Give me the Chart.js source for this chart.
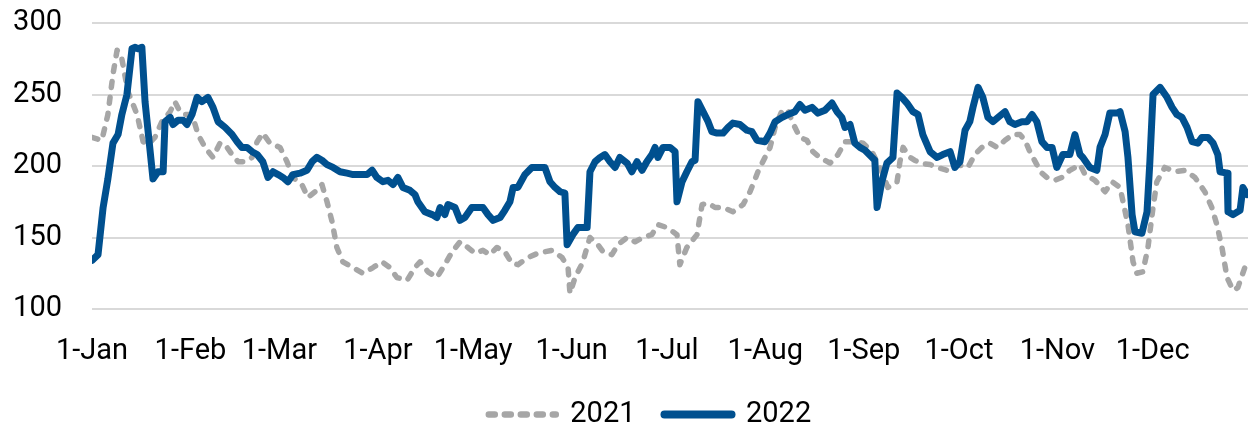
<!DOCTYPE html>
<html>
<head>
<meta charset="utf-8">
<script src="https://cdn.jsdelivr.net/npm/chart.js@4"></script>
<style>
  html, body { margin: 0; padding: 0; background: #ffffff; }
  #wrap { width: 1253px; height: 429px; }
</style>
</head>
<body>
<div id="wrap"><canvas id="c" width="1253" height="429"></canvas></div>
<script>
// Day-of-year positions (0 = 1-Jan) and values
const monthStartDays = [0, 31, 59, 90, 120, 151, 181, 212, 243, 273, 304, 334];
const monthLabels = ['1-Jan','1-Feb','1-Mar','1-Apr','1-May','1-Jun','1-Jul','1-Aug','1-Sep','1-Oct','1-Nov','1-Dec'];
const yTickValues = [100, 150, 200, 250, 300];

const days2021 = [0,3.1,5,6.6,7.9,9.4,11.3,14.2,16.1,17.6,19.8,22,24.6,26.1,27.7,29.3,31.5,33.4,35.6,38.1,40.3,41.9,44.1,46,48.2,50.4,52,53.8,56,59.2,61.4,63.3,66.1,68,70.2,72.4,74,75.6,77.1,79,82.2,85.3,88.5,91.3,93.8,96,99.2,101.7,103.3,105.8,108.6,111.1,113.4,115.9,118.4,120.6,123.1,125.3,127.5,130,132.2,134.1,137.3,140.4,144.8,148,149.9,150.5,152.1,154.6,155.2,156.8,159.3,160.9,163.7,165.6,168.5,171,173.5,176.3,178.2,181,184.2,185.1,187.3,190.5,192.1,194,196.2,198.7,201.8,205,207.2,209.7,211.9,213.5,215.1,217.3,219.1,220.7,222.9,225.1,227,229.2,232.4,234.9,237.1,240.2,242.8,245.6,248.7,250.6,253.5,254.4,255.4,257.6,259.1,260.7,263.9,266.1,269.2,272.4,275.8,278,280.2,282.7,285,287.5,290,292.2,293.8,295.3,297.5,299.1,300.7,303.2,305.4,307.9,311.1,312.7,315.8,319,321.2,323.7,326.2,327.8,329,330.9,332.5,334.1,335.3,337.8,341,344.1,347.3,350.4,352.6,354.2,355.8,357.4,359.3,360.8,363];
const values2021 = [220,218,236,264,281,275,252,236,217,215,220,231,238,245,238,236,236,222,213,206,216,215,208,203,203,206,217,223,216,213,203,192,187,178,182,187,175,161,143,133,129,125,129,133,129,122,120,129,133,126,122,131,140,147,143,139,141,138,143,140,132,131,136,139,141,136,129,111,122,133,138,150,145,140,138,145,150,147,150,152,159,157,152,131,143,152,173,174,171,171,168,173,182,196,206,213,227,239,239,230,220,218,210,206,202,208,217,217,216,210,196,185,189,203,213,206,204,202,201,199,197,201,199,208,213,216,213,218,222,222,218,210,201,195,192,190,192,197,201,194,190,182,189,185,159,133,125,126,143,171,189,199,196,197,192,182,171,159,143,122,113,115,129];

const days2022 = [0,1.9,3.5,5,6.6,8.2,9.4,11,12.6,13.5,14.5,15.7,16.7,19.2,20.8,22.4,23,24.6,25.5,27.1,28.7,29.9,31.5,33.1,34.6,36.5,38.1,39.7,41.9,44.1,45.7,47.2,48.8,50.4,52,53.8,55.4,57,58.6,60.1,61.7,63.3,65.5,67.7,69.3,70.8,72.4,74,75.9,78.1,80.3,82.2,84.4,86.6,88.2,89.7,91.6,93.2,94.8,96.3,97.9,100.1,101.7,102.6,104.8,107.1,108.6,109.6,111.1,112.1,114.3,115.9,117.4,119.6,121.5,123.1,124.7,126.3,128.5,130,131.6,132.6,134.1,136.3,138.5,140.4,142.6,144.2,145.8,147.4,148.9,149.6,151.4,153,155.9,156.8,158.4,160,161.5,163.1,164.7,166.2,168.5,170,171.6,173.2,174.7,176.3,177.3,178.2,179.8,182,183.6,184.2,185.8,187.3,188.9,189.9,190.8,192.4,194,195.2,196.8,198.7,200.3,201.8,204,206.2,207.8,209.4,211.9,213.5,215.1,217.3,219.1,221.3,222.9,224.5,226.7,228.6,230.8,233,234.6,236.1,237.1,238.7,240.2,241.8,243.4,245.6,246.5,247.2,248.7,250.3,252.2,253.5,255,256.6,258.5,260.1,261.6,263.9,266.1,267.9,270.2,271.7,273.3,274.9,276.4,277.4,279,280.5,282.1,283.7,285.3,287.5,289,290.6,292.8,294.4,296,297.5,299.1,300.7,302.3,303.8,305.7,307.9,309.5,311.1,312,314.2,316.4,317.4,319,320.5,322.7,323.7,325.3,326.2,327.5,328.4,330.6,332.2,333.1,334.1,336.3,338.5,340.1,341.6,343.2,344.8,346.4,348.2,349.5,351.4,353,354.5,355.2,357.4,357.7,359.3,361.5,362.4,363.7];
const values2022 = [134,138,171,191,216,222,236,250,282,283,282,283,245,191,196,196,231,234,229,232,232,229,236,248,245,248,241,231,227,222,217,213,213,210,208,203,192,196,194,192,189,194,195,197,203,206,204,201,199,196,195,194,194,194,197,192,189,190,187,192,185,183,180,175,168,166,164,171,166,173,171,162,164,171,171,171,166,162,164,169,175,185,185,194,199,199,199,189,185,182,181,145,152,157,157,196,203,206,208,203,199,206,202,196,203,197,203,208,213,206,213,213,210,175,189,196,203,204,245,238,231,224,223,223,227,230,229,225,224,218,217,223,231,234,236,238,243,239,241,237,239,244,238,234,227,229,216,213,211,206,204,171,189,202,206,251,248,244,238,236,222,210,206,208,210,199,203,225,231,241,255,248,234,231,234,238,231,229,231,231,236,231,217,213,213,199,208,208,222,208,206,199,197,213,222,237,237,238,224,206,166,154,153,168,203,250,255,248,241,236,234,227,217,216,220,220,216,208,196,195,168,166,169,185,180];

const seriesNames = ['2021', '2022'];

const toPoints = (xs, ys) => xs.map((d, i) => ({ x: d, y: ys[i] }));

const FONT = { family: 'Roboto', size: 29 };

new Chart(document.getElementById('c'), {
  type: 'line',
  data: {
    datasets: [
      {
        label: seriesNames[0],
        data: toPoints(days2021, values2021),
        borderColor: '#A6A6A6',
        backgroundColor: '#A6A6A6',
        borderWidth: 5.5,
        borderDash: [6, 10],
        borderCapStyle: 'round',
        borderJoinStyle: 'round',
        pointRadius: 0,
        tension: 0,
        order: 1
      },
      {
        label: seriesNames[1],
        data: toPoints(days2022, values2022),
        borderColor: '#00508F',
        backgroundColor: '#00508F',
        borderWidth: 7,
        borderCapStyle: 'round',
        borderJoinStyle: 'round',
        pointRadius: 0,
        tension: 0,
        order: 0
      }
    ]
  },
  options: {
    responsive: false,
    animation: false,
    events: [],
    layout: { padding: { left: 10, right: -37, top: 23, bottom: -10 } },
    plugins: {
      tooltip: { enabled: false },
      legend: {
        position: 'bottom',
        labels: {
          usePointStyle: true,
          pointStyle: 'line',
          pointStyleWidth: 67,
          padding: 29,
          color: '#000',
          font: FONT,
          sort: (a, b) => a.datasetIndex - b.datasetIndex,
          generateLabels: (chart) => {
            const items = Chart.defaults.plugins.legend.labels.generateLabels(chart);
            return items.map((item) => {
              const ds = chart.data.datasets[item.datasetIndex];
              item.lineDash = ds.borderDash || [];
              item.lineWidth = ds.borderWidth + 1;
              item.lineCap = 'round';
              item.strokeStyle = ds.borderColor;
              item.fillStyle = ds.borderColor;
              return item;
            });
          }
        }
      }
    },
    scales: {
      x: {
        type: 'linear',
        min: 0,
        max: 364,
        grid: { display: false, drawTicks: false },
        border: { display: false },
        afterBuildTicks: (scale) => { scale.ticks = monthStartDays.map(v => ({ value: v })); },
        afterFit: (scale) => { scale.height = 62; },
        ticks: {
          autoSkip: false,
          maxRotation: 0,
          minRotation: 0,
          padding: 25,
          color: '#000',
          font: FONT,
          callback: (value) => monthLabels[monthStartDays.indexOf(value)]
        }
      },
      y: {
        min: 100,
        max: 300,
        grid: { color: '#D9D9D9', lineWidth: 2, drawTicks: false },
        border: { display: false },
        afterBuildTicks: (scale) => { scale.ticks = yTickValues.map(v => ({ value: v })); },
        afterFit: (scale) => { scale.width = 82; scale.paddingTop = 0; scale.paddingBottom = 0; },
        ticks: {
          padding: 30,
          color: '#000',
          font: FONT
        }
      },
      yRightSpacer: {
        position: 'right',
        grid: { display: false, drawTicks: false },
        border: { display: false },
        ticks: { display: false },
        afterFit: (scale) => { scale.width = 42; scale.paddingTop = 0; scale.paddingBottom = 0; }
      }
    }
  }
});
</script>
</body>
</html>
